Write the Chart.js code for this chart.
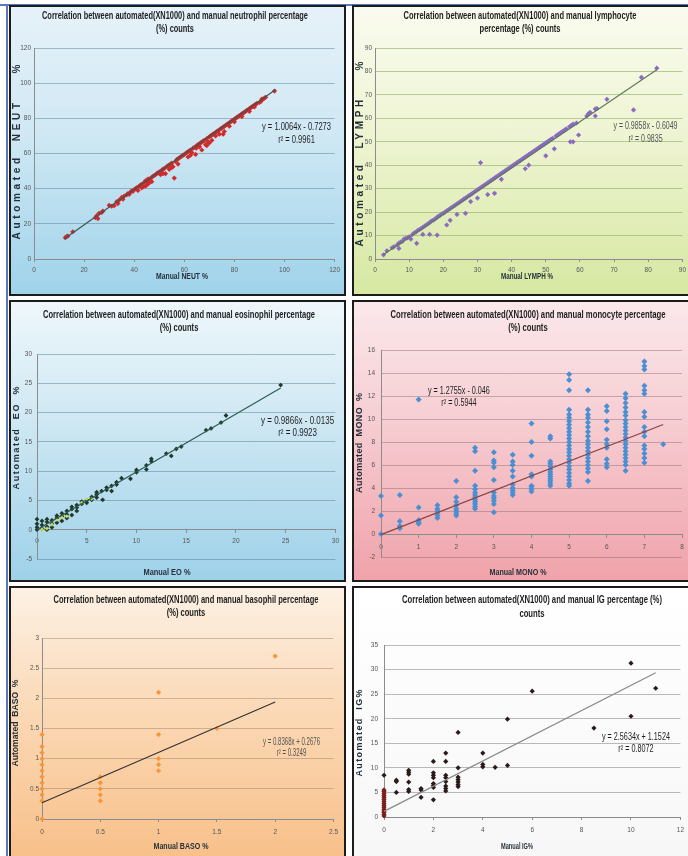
<!DOCTYPE html>
<html>
<head>
<meta charset="utf-8">
<script src="https://cdn.jsdelivr.net/npm/chart.js@4.4.1/dist/chart.umd.min.js"></script>
<style>
  body { margin: 0; width: 688px; height: 856px; position: relative; overflow: hidden; background: #fff; }
  .panel { position: absolute; box-sizing: border-box; border: 2px solid #1c1c1c; }
  .panel canvas { position: absolute; left: 0; top: 0; }
  .rule { position: absolute; background: #5a78c0; }
</style>
</head>
<body>
<div class="rule" style="left:0;top:4px;width:688px;height:2px"></div>
<div class="rule" style="left:6px;top:4px;width:2px;height:852px"></div>

<div class="panel" style="left:9px;top:5px;width:337px;height:291px;background:linear-gradient(#e6f2f9,#cfe8f4 45%,#9fd3ea)">
  <canvas id="cNeut" width="333" height="287"></canvas></div>
<div class="panel" style="left:352px;top:5px;width:340px;height:291px;background:linear-gradient(#fafbef,#eef4d2 45%,#d6e8a2)">
  <canvas id="cLymph" width="336" height="287"></canvas></div>
<div class="panel" style="left:9px;top:300px;width:337px;height:282px;background:linear-gradient(#eef7fb,#cde7f3 45%,#9ed1e9)">
  <canvas id="cEo" width="333" height="278"></canvas></div>
<div class="panel" style="left:352px;top:300px;width:340px;height:282px;background:linear-gradient(#fbe8eb,#f6ccd1 45%,#f0a2aa)">
  <canvas id="cMono" width="336" height="278"></canvas></div>
<div class="panel" style="left:9px;top:586px;width:337px;height:274px;background:linear-gradient(#fdf1e4,#fbd9b6 45%,#f8c08a)">
  <canvas id="cBaso" width="333" height="270"></canvas></div>
<div class="panel" style="left:352px;top:586px;width:340px;height:274px;background:linear-gradient(#ffffff,#f7f7f7)">
  <canvas id="cIg" width="336" height="270"></canvas></div>

<script>
// ---- data: [manual, automated] pairs ----

const neutPoints = [
  [12.5,12.2],[13,12.8],[13.5,13],[15.5,15.5],[24.5,23.5],[25,24.5],[25.5,23],[26,26],[27,26.5],[27.5,27.2],
  [30,30.5],[31,30],[32,30.3],[33,32.5],[33.5,31.5],[34,33.5],[35,35],[35.5,34],[36,35.8],[37,36.5],
  [37.5,37.2],[38,36.8],[38.5,38],[39,38.7],[39.5,38.5],[40,39.5],[40.5,40],[41,40.5],[41.5,39],[42,41.5],
  [42.5,42],[43,42.5],[43,40.5],[43.5,41],[44,43.5],[44.5,44.5],[44.5,41.5],[45,44],[45.5,45.5],[45.5,42.5],
  [46,45.5],[46,43.5],[46.5,44.8],[47,46.5],[47,44],[47.5,47],[48,47.5],[48.5,48],[49,48.5],[49.5,49],
  [50,49.5],[50.2,48.7],[50.5,48],[51,50.5],[51.5,51],[51.5,48.5],[52,51.5],[52.5,48.5],[53,52.5],[53.5,53],
  [54,53.5],[54,51],[54.5,54],[55,54.5],[55,52],[55.5,52.5],[56,46],[56.5,55.5],[57,56.5],[57.5,57],
  [57.5,54],[58,57.5],[58.5,58],[59,58.5],[59.5,59],[60,59.5],[60.5,60],[61,60.5],[61.5,61],[61.5,58],
  [62,61.5],[62.5,62],[62.5,59],[63,60.5],[63.5,63],[64,63.5],[64.5,59.5],[64.8,63],[65,64.5],[65.5,65],
  [66,65.5],[66.1,63.9],[66.5,66],[67,66.5],[67,62],[67.5,67],[68,67.5],[68.5,65],[69,68.5],[69,64.5],
  [69.5,66.5],[70,69.5],[70,66],[70.5,70],[71,70.5],[71,67.5],[71.5,71],[72,71.5],[72.5,72],[72.5,70],
  [73,72.5],[73.5,73],[74,73.5],[74,71],[74.5,74],[75,74.5],[75.5,71],[75.5,75],[76,75.5],[76,72.5],
  [76.5,76],[77,76.5],[77.5,77],[78,77.5],[78,75.5],[78.5,78],[79,78.5],[79.5,79],[80,79.5],[80,78],
  [80.5,80],[81,80.5],[81.5,81],[82,81.5],[82.5,82],[83,82.5],[83,81],[83.5,83],[84,83.5],[84.5,84],
  [85,84.5],[85.5,85],[86,85.5],[86,84],[86.5,86],[87,86.5],[87.5,87],[88,87.5],[88,86.5],[88.5,88],
  [89,88.5],[90,89],[90.5,89.5],[91,90.5],[91,91],[91.5,91],[92,91.5],[92.5,92],[96,95.5]
];
const neutTrend = [[12, 11.4], [96.5, 96.4]];
const neutXTicks = [0, 20, 40, 60, 80, 100, 120];
const neutYTicks = [0, 20, 40, 60, 80, 100, 120];
const neutTitle = ['Correlation between automated(XN1000) and manual neutrophil percentage', '(%) counts'];
const neutEq = ['y = 1.0064x - 0.7273', 'r\u00b2 = 0.9961'];

const lymphPoints = [
  [2.5,1.8],[3.5,3.5],[5,4.8],[5.5,5.2],[6.5,6],[7,4.5],[7,6.8],[7.5,7.2],[8,7.5],[8.5,8.5],
  [9,8.8],[9.5,9],[10,9.5],[10.5,8.5],[11,10.5],[11.5,11.2],[12,11.5],[12.2,6.7],[12.5,12.2],[13,12.5],
  [13.5,13],[14,10.5],[14,13.5],[14.5,14],[15,14.5],[15.5,15],[16,10.5],[16,15.5],[16.5,16.2],[17,16.5],
  [17.5,17],[18,17.5],[18.2,10.2],[18.5,18.2],[19,18.5],[19.5,19.2],[20,19.5],[20.5,20],[21,14.5],[21,20.5],
  [21.5,21],[22,21.5],[22,16.5],[22.5,22],[23,22.5],[23.5,23],[24,23.5],[24,19],[24.5,24],[25,24.5],
  [25.5,25],[26,25.5],[26.5,19.5],[26.5,26],[27,26.5],[27.5,27],[28,27.5],[28,24.5],[28.5,28],[29,28.5],
  [29.5,29],[30,29.5],[30,26],[30.5,30],[30.9,41.1],[31,30.5],[31.5,31],[32,31.5],[32.5,32],[33,27.5],
  [33,32.5],[33.5,33],[34,33.5],[34.5,34],[35,28],[35,34.5],[35.5,35],[36,35.5],[36.5,36],[37,34],
  [37,36.5],[37.5,37],[38,37.5],[38.5,38],[39,38.5],[39.5,39],[40,39.5],[40.5,40],[41,40.5],[41.5,41],
  [42,41.5],[42.5,42],[43,42.5],[43.5,43],[44,38.5],[44,43.5],[44.5,44],[45,40],[45,44.5],[45.5,45],
  [46,45.5],[46.5,46],[47,46.5],[47.5,47],[48,47.5],[48.5,48],[49,48.5],[49.5,49],[50,44],[50,49.5],
  [50.5,50],[51,50.5],[51.5,51],[52,51.5],[52.5,47],[53,52.5],[53.5,53],[54,53.5],[54.5,54],[55,54.5],
  [55.5,55],[56,55.5],[57.2,50],[57,56.5],[57.5,57],[58,50],[58,57.5],[59,58],[59.6,52.9],[62,61],
  [62.5,62],[63,62.5],[64.5,61],[64.5,64],[65,64.2],[67.9,68.1],[75.7,63.6],[78,77.5],[82.5,81.4]
];
const lymphTrend = [[2.5, 1.9], [82.5, 80.7]];
const lymphXTicks = [0, 10, 20, 30, 40, 50, 60, 70, 80, 90];
const lymphYTicks = [0, 10, 20, 30, 40, 50, 60, 70, 80, 90];
const lymphTitle = ['Correlation between automated(XN1000) and manual lymphocyte', 'percentage (%) counts'];
const lymphEq = ['y = 0.9858x - 0.6049', 'r\u00b2 = 0.9835'];

const eoPoints = [
  [0,0],[0,0.4],[0,1],[0,1.8],[0.5,0.2],[0.5,0.8],[0.5,1.5],[1,0],[1,0.5],[1,1.3],
  [1,1.8],[1.5,0.4],[1.5,1],[1.5,1.6],[2,1.2],[2,2],[2,2.4],[2.5,1.5],[2.5,2.3],[2.5,2.8],
  [3,2],[3,2.6],[3,3.2],[3.5,2.5],[3.5,3.5],[3.5,3.9],[4,3.2],[4,3.8],[4,4.2],[4.5,4.4],
  [4.5,4.8],[5,4.6],[5,5],[5.5,5.1],[5.5,5.6],[6,5.5],[6,6],[6,6.4],[6.6,5.1],[6.5,6.6],
  [7,6.8],[7,7.2],[7.5,6.6],[7.5,7.5],[8,7.7],[8,8.1],[8.5,8.8],[9.4,8.7],[10,9.8],[10,10.2],
  [11,10.3],[11,11],[11.5,11.7],[11.5,12.1],[13,13],[13.5,12.6],[14,13.8],[14.5,14.2],[17,17],[17.5,17.3],
  [18.5,18.3],[19,19.5],[24.5,24.7]
];
const eoLightPoints = [[0.5,0.1],[1,0.2],[1.5,0.9],[2,1.7],[2.5,2.1],[3,2.3],[4.5,4.6],[5,5.2],[5.5,5.3]];
const eoTrend = [[0, 0], [24.5, 24.2]];
const eoXTicks = [0, 5, 10, 15, 20, 25, 30];
const eoYTicks = [-5, 0, 5, 10, 15, 20, 25, 30];
const eoTitle = ['Correlation between automated(XN1000) and manual eosinophil percentage', '(%) counts'];
const eoEq = ['y = 0.9866x - 0.0135', 'r\u00b2 = 0.9923'];

const monoPoints = [
  [0,0],[0,1.6],[0,3.3],
  [0.5,0.5],[0.5,0.7],[0.5,1.1],[0.5,3.4],
  [1,0.9],[1,1.0],[1,1.2],[1,2.3],[1,11.7],
  [1.5,1.4],[1.5,1.6],[1.5,1.8],[1.5,2.0],[1.5,2.2],[1.5,2.5],
  [2,1.6],[2,1.8],[2,2.0],[2,2.2],[2,2.5],[2,2.8],[2,3.2],[2,4.6],
  [2.5,2.2],[2.5,2.4],[2.5,2.6],[2.5,2.8],[2.5,3.0],[2.5,3.2],[2.5,3.4],[2.5,3.6],[2.5,3.9],[2.5,4.2],[2.5,5.5],[2.5,7.2],[2.5,7.5],
  [3,1.9],[3,2.6],[3,2.9],[3,3.1],[3,3.3],[3,3.6],[3,4.7],[3,5.8],[3,6.2],[3,6.4],[3,7.1],
  [3.5,3.4],[3.5,3.6],[3.5,3.8],[3.5,4.0],[3.5,4.3],[3.5,5.0],[3.5,5.5],[3.5,6.0],[3.5,6.3],[3.5,6.9],
  [4,3.7],[4,3.9],[4,4.1],[4,4.2],[4,5.0],[4,5.2],[4,6.8],[4,8.0],[4,9.6],
  [4.5,4.2],[4.5,4.4],[4.5,4.6],[4.5,4.8],[4.5,5.0],[4.5,5.2],[4.5,5.4],[4.5,5.6],[4.5,5.9],[4.5,6.1],[4.5,6.3],[4.5,8.3],[4.5,8.5],
  [5,4.2],[5,4.4],[5,4.7],[5,5.0],[5,5.3],[5,5.6],[5,5.9],[5,6.2],[5,6.5],[5,6.8],[5,7.1],[5,7.4],[5,7.7],[5,8.0],
  [5,8.3],[5,8.6],[5,8.9],[5,9.2],[5,9.5],[5,9.8],[5,10.1],[5,10.4],[5,10.8],[5,12.5],[5,13.4],[5,13.9],
  [5.5,4.6],[5.5,5.4],[5.5,5.7],[5.5,6.0],[5.5,6.3],[5.5,6.6],[5.5,6.9],[5.5,7.2],[5.5,7.5],[5.5,7.8],[5.5,8.1],
  [5.5,8.5],[5.5,8.9],[5.5,9.3],[5.5,9.7],[5.5,10.1],[5.5,10.4],[5.5,10.8],[5.5,12.5],
  [6,5.8],[6,6.1],[6,6.5],[6,7.5],[6,7.8],[6,8.2],[6,9.1],[6,9.8],[6,10.7],[6,11.1],
  [6.5,5.5],[6.5,6.0],[6.5,6.3],[6.5,6.6],[6.5,6.9],[6.5,7.2],[6.5,7.5],[6.5,7.8],[6.5,8.1],[6.5,8.4],[6.5,8.7],
  [6.5,9.0],[6.5,9.3],[6.5,9.6],[6.5,9.9],[6.5,10.3],[6.5,10.6],[6.5,11.0],[6.5,11.4],[6.5,11.8],[6.5,12.2],
  [7,6.2],[7,6.6],[7,7.0],[7,7.4],[7,7.7],[7,8.5],[7,8.9],[7,9.3],[7,10.2],[7,10.6],[7,12.2],[7,12.5],[7,12.9],[7,14.3],[7,14.6],[7,15.0],
  [7.5,7.8]
];
const monoTrend = [[0, -0.05], [7.5, 9.52]];
const monoXTicks = [0, 1, 2, 3, 4, 5, 6, 7, 8];
const monoYTicks = [-2, 0, 2, 4, 6, 8, 10, 12, 14, 16];
const monoTitle = ['Correlation between automated(XN1000) and manual monocyte percentage', '(%) counts'];
const monoEq = ['y = 1.2755x - 0.046', 'r\u00b2 = 0.5944'];

const basoPoints = [
  [0,0],[0,0.3],[0,0.4],[0,0.5],[0,0.6],[0,0.7],[0,0.8],[0,0.9],[0,1.0],[0,1.1],[0,1.2],[0,1.4],
  [0.5,0.3],[0.5,0.4],[0.5,0.5],[0.5,0.6],[0.5,0.7],
  [1,0.8],[1,0.9],[1,1.0],[1,1.4],[1,2.1],
  [1.5,1.5],
  [2,2.7]
];
const basoTrend = [[0, 0.27], [2, 1.94]];
const basoXTicks = [0, 0.5, 1, 1.5, 2, 2.5];
const basoYTicks = [0, 0.5, 1, 1.5, 2, 2.5, 3];
const basoTitle = ['Correlation between automated(XN1000) and manual basophil percentage', '(%) counts'];
const basoEq = ['y = 0.8368x + 0.2676', 'r\u00b2 = 0.3249'];

const igZeroPoints = [
  [0,0.2],[0,0.5],[0,0.9],[0,1.2],[0,1.6],[0,2.0],[0,2.4],[0,2.8],[0,3.2],[0,3.6],[0,4.0],[0,4.4],[0,4.8],[0,5.2],[0,5.5]
];
const igPoints = [
  [0,8.5],
  [0.5,5.0],[0.5,7.2],[0.5,7.5],
  [1,5.2],[1,5.6],[1,7.1],[1,8.7],[1,9.1],[1,9.5],
  [1.5,4.0],[1.5,5.5],[1.5,5.8],
  [2,3.5],[2,6.0],[2,6.4],[2,6.8],[2,8.0],[2,8.5],[2,9.0],[2,11.3],
  [2.5,5.3],[2.5,5.8],[2.5,6.3],[2.5,7.2],[2.5,8.0],[2.5,8.5],[2.5,11.3],[2.5,13.0],
  [3,6.2],[3,6.6],[3,7.1],[3,7.6],[3,8.1],[3,10.0],[3,17.2],
  [4,10.2],[4,10.7],[4,13.0],
  [4.5,10.1],
  [5,10.5],[5,19.9],
  [6,25.6],
  [8.5,18.1],
  [10,20.5],[10,31.3],
  [11,26.2]
];
const igTrend = [[0, 1.15], [11, 29.35]];
const igXTicks = [0, 2, 4, 6, 8, 10, 12];
const igYTicks = [0, 5, 10, 15, 20, 25, 30, 35];
const igTitle = ['Correlation between automated(XN1000) and manual IG percentage (%)', 'counts'];
const igEq = ['y = 2.5634x + 1.1524', 'r\u00b2 = 0.8072'];

// ---- drawing ----

const SANS = '"Liberation Sans", Arial, sans-serif';
const NARROW = '"Liberation Sans Narrow", "Liberation Sans", Arial, sans-serif';

function textScale(ctx, font, text, width) {
  ctx.save();
  ctx.font = font;
  const w = ctx.measureText(text).width;
  ctx.restore();
  return width / w;
}

function drawText(ctx, text, x, y, font, color, k) {
  ctx.save();
  ctx.font = font;
  ctx.fillStyle = color;
  ctx.textAlign = 'center';
  ctx.textBaseline = 'middle';
  ctx.translate(x, y);
  ctx.scale(k, 1);
  ctx.fillText(text, 0, 0);
  ctx.restore();
}

// rotated axis title, spread out to the given length like the original
function drawVertical(ctx, text, x, y, font, color, length) {
  ctx.save();
  ctx.font = font;
  ctx.fillStyle = color;
  ctx.textBaseline = 'middle';
  ctx.translate(x, y);
  ctx.rotate(-Math.PI / 2);
  const natural = ctx.measureText(text).width;
  if ('letterSpacing' in ctx && length > natural) {
    const gap = (length - natural) / (text.length - 1);
    ctx.letterSpacing = gap + 'px';
    ctx.textAlign = 'left';
    ctx.fillText(text, -length / 2, 0);
  } else {
    ctx.textAlign = 'center';
    ctx.scale(length / natural, 1);
    ctx.fillText(text, 0, 0);
  }
  ctx.restore();
}

function buildPanel(p) {
  const canvas = document.getElementById(p.id);
  const W = canvas.width, H = canvas.height;
  const a = p.area;
  const toXY = pts => pts.map(([x, y]) => ({ x, y }));

  const datasets = [{
    data: toXY(p.trend), showLine: true, borderColor: p.trendColor, borderWidth: 1.2,
    pointRadius: 0, order: 0, clip: false
  }];
  p.series.forEach(s => datasets.push({
    data: toXY(s.points), backgroundColor: s.color, borderColor: s.color, borderWidth: 0,
    pointStyle: 'rectRot', pointRadius: s.r, order: 1, clip: false
  }));

  const textPlugin = {
    id: 'panelText',
    afterDraw(chart) {
      const ctx = chart.ctx;
      const t = p.text;
      const titleFont = 'bold 10px ' + NARROW;
      const kt = textScale(ctx, titleFont, p.title[0], t.titleW);
      p.title.forEach((line, i) => drawText(ctx, line, t.titleX, t.titleY[i], titleFont, '#1e1e1e', kt));

      const axFont = 'bold 9px ' + SANS;
      drawText(ctx, p.xLabel, t.xT[0], t.xT[1], axFont, '#26303a', textScale(ctx, axFont, p.xLabel, t.xT[2]));
      drawVertical(ctx, p.yLabel, t.yT[0], t.yT[1], 'bold ' + t.yT[3] + 'px ' + SANS, '#26303a', t.yT[2]);

      const eqFont = '10px ' + NARROW;
      const ke = textScale(ctx, eqFont, p.eq[0], t.eqW);
      const xs = chart.scales.x, ys = chart.scales.y;
      p.eq.forEach((line, i) =>
        drawText(ctx, line, xs.getPixelForValue(t.eqAt[0]), ys.getPixelForValue(t.eqAt[1][i]), eqFont, t.eqColor, ke));
    }
  };

  const tickFont = { family: SANS, size: 6.5 };
  new Chart(canvas.getContext('2d'), {
    type: 'scatter',
    data: { datasets },
    options: {
      responsive: false,
      animation: false,
      events: [],
      layout: { padding: { left: 0, top: a.t, right: W - a.r, bottom: p.xAtZero ? H - a.b : 0 } },
      plugins: { legend: { display: false }, tooltip: { enabled: false } },
      scales: {
        x: {
          type: 'linear',
          position: p.xAtZero ? { y: 0 } : 'bottom',
          min: p.xTicks[0], max: p.xTicks[p.xTicks.length - 1],
          afterBuildTicks: s => { s.ticks = p.xTicks.map(v => ({ value: v })); },
          afterFit: s => { if (!p.xAtZero) s.height = H - a.b; },
          ticks: { font: tickFont, color: '#555', padding: p.xPad, autoSkip: false, maxRotation: 0, callback: v => String(v) },
          grid: { drawOnChartArea: false, drawTicks: true, tickLength: 3, color: '#8c8c8c' },
          border: { color: '#8c8c8c' }
        },
        y: {
          type: 'linear',
          min: p.yTicks[0], max: p.yTicks[p.yTicks.length - 1],
          afterBuildTicks: s => { s.ticks = p.yTicks.map(v => ({ value: v })); },
          afterFit: s => { s.width = a.l; },
          ticks: { font: tickFont, color: '#555', padding: p.yPad, autoSkip: false, callback: v => String(v) },
          grid: { color: p.gridColor, drawTicks: false, lineWidth: 1 },
          border: { color: '#8c8c8c' }
        }
      }
    },
    plugins: [textPlugin]
  });
}

const panels = [
  { id: 'cNeut', area: { l: 23, r: 324, t: 41, b: 252 }, xTicks: neutXTicks, yTicks: neutYTicks,
    series: [{ points: neutPoints, color: '#d12a2a', r: 2.6 }], trend: neutTrend, trendColor: '#3c5555',
    title: neutTitle, eq: neutEq, xLabel: 'Manual NEUT %', yLabel: 'Automated  NEUT    %',
    gridColor: 'rgba(70,120,140,0.45)', xPad: 4, yPad: 3,
    text: { titleX: 164, titleY: [9, 22], titleW: 266, xT: [171, 270, 52], yT: [6, 145, 175, 10],
            eqAt: [104.8, [75, 67.7]], eqW: 69, eqColor: '#1e1e1e' } },
  { id: 'cLymph', area: { l: 21, r: 329, t: 41, b: 252 }, xTicks: lymphXTicks, yTicks: lymphYTicks,
    series: [{ points: lymphPoints, color: '#8a6bc0', r: 2.6 }], trend: lymphTrend, trendColor: '#5d7a5a',
    title: lymphTitle, eq: lymphEq, xLabel: 'Manual LYMPH %', yLabel: 'Automated  LYMPH    %',
    gridColor: 'rgba(140,175,100,0.6)', xPad: 4, yPad: 3,
    text: { titleX: 166, titleY: [9, 22], titleW: 233, xT: [173, 270, 52], yT: [6, 147, 185, 10],
            eqAt: [79.2, [56.7, 51.2]], eqW: 64, eqColor: '#555' } },
  { id: 'cEo', area: { l: 26, r: 327, t: 52, b: 257 }, xTicks: eoXTicks, yTicks: eoYTicks, xAtZero: true,
    series: [{ points: eoLightPoints, color: '#c9d94a', r: 2 }, { points: eoPoints, color: '#1f3a2c', r: 2.4 }],
    trend: eoTrend, trendColor: '#2d5a50',
    title: eoTitle, eq: eoEq, xLabel: 'Manual EO %', yLabel: 'Automated  EO  %',
    gridColor: 'rgba(70,120,140,0.45)', xPad: 5, yPad: 5,
    text: { titleX: 168, titleY: [13, 26], titleW: 272, xT: [156, 271, 47], yT: [6, 136, 103, 9],
            eqAt: [26.2, [18.5, 16.4]], eqW: 73, eqColor: '#1e1e1e' } },
  { id: 'cMono', area: { l: 27, r: 328, t: 48, b: 255 }, xTicks: monoXTicks, yTicks: monoYTicks, xAtZero: true,
    series: [{ points: monoPoints, color: '#4a8fd2', r: 3 }], trend: monoTrend, trendColor: '#8a4444',
    title: monoTitle, eq: monoEq, xLabel: 'Manual MONO %', yLabel: 'Automated  MONO  %',
    gridColor: 'rgba(140,105,110,0.45)', xPad: 6, yPad: 6,
    text: { titleX: 174, titleY: [13, 26], titleW: 275, xT: [164, 271, 57], yT: [6, 141, 100, 9],
            eqAt: [2.07, [12.4, 11.4]], eqW: 62, eqColor: '#1e1e1e' } },
  { id: 'cBaso', area: { l: 31, r: 327, t: 50, b: 231 }, xTicks: basoXTicks, yTicks: basoYTicks,
    series: [{ points: basoPoints, color: '#f5963a', r: 2.6 }], trend: basoTrend, trendColor: '#333',
    title: basoTitle, eq: basoEq, xLabel: 'Manual BASO %', yLabel: 'Automated  BASO  %',
    gridColor: 'rgba(150,125,105,0.45)', xPad: 6, yPad: 3,
    text: { titleX: 175, titleY: [12, 25], titleW: 265, xT: [170, 259, 55], yT: [5, 135, 87, 9],
            eqAt: [2.14, [1.28, 1.09]], eqW: 57, eqColor: '#555' } },
  { id: 'cIg', area: { l: 30, r: 328, t: 57, b: 229 }, xTicks: igXTicks, yTicks: igYTicks,
    series: [{ points: igZeroPoints, color: '#7a1e1e', r: 2.6 }, { points: igPoints, color: '#2a1a1a', r: 2.6 }],
    trend: igTrend, trendColor: '#8a8a8a',
    title: igTitle, eq: igEq, xLabel: 'Manual IG%', yLabel: 'Automated  IG%',
    gridColor: 'rgba(120,120,120,0.5)', xPad: 6, yPad: 6,
    text: { titleX: 178, titleY: [12, 26], titleW: 260, xT: [163, 259, 32], yT: [6, 145, 87, 9],
            eqAt: [10.2, [16.3, 13.85]], eqW: 68, eqColor: '#1e1e1e' } }
];

panels.forEach(buildPanel);
</script>
</body>
</html>
